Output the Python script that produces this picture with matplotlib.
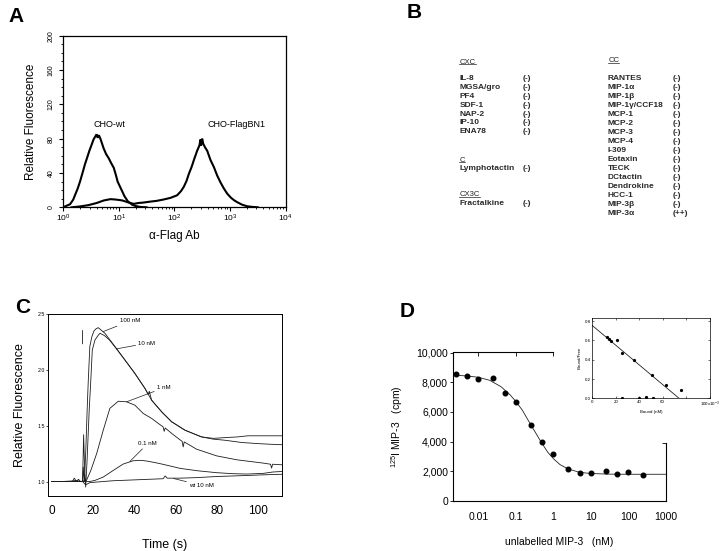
import numpy as np
import matplotlib
matplotlib.use('Agg')
import matplotlib.pyplot as plt
from matplotlib.lines import Line2D
from matplotlib.ticker import MultipleLocator, LogLocator, NullFormatter

plt.rcParams['font.family'] = ['Liberation Sans', 'DejaVu Sans']
plt.rcParams['mathtext.fontset'] = 'custom'
plt.rcParams['mathtext.rm'] = 'Liberation Sans'
plt.rcParams['mathtext.it'] = 'Liberation Sans:italic'
plt.rcParams['mathtext.bf'] = 'Liberation Sans:bold'

# ---------------- Panel A data (flow cytometry histograms) ----------------
wt_x = [1.0, 1.07, 1.32, 1.51, 1.62, 1.82, 2.0, 2.24, 2.45, 2.69, 2.95, 3.24, 3.5, 3.8,
        3.98, 4.17, 4.37, 4.65, 5.0, 5.3, 5.9, 6.6, 7.2, 8.1, 8.9, 9.5, 10.5, 11.5, 12.6,
        14.5, 17.4, 20.0, 24.5, 31.6]
wt_y = [0, 1, 3.5, 9, 14, 22, 30, 41, 50, 58, 66, 73, 79, 83,
        85, 81, 84, 80, 74, 69, 62, 57, 52, 46, 37, 30, 24, 18.6, 13,
        7, 3, 1.5, 0.4, 0]
bn1_x = [1.41, 2.0, 2.82, 3.98, 5.37, 7.08, 8.9, 11.5, 15.1, 18.6, 22.4, 27.5, 35.5, 47.9,
         63.1, 85.1, 112, 132, 148, 166, 182, 204, 224, 257, 282, 295, 302, 316, 331, 355,
         389, 447, 513, 589, 676, 776, 891, 1047, 1202, 1349, 1660, 2042, 2512, 3162]
bn1_y = [0, 1, 2.5, 5, 8, 9.5, 9, 8, 5.5, 4, 5, 5.5, 6.5, 7.5,
         9, 11, 14, 19, 24, 31, 39, 47, 55, 66, 72, 79, 72, 80, 74, 70,
         66, 55, 47, 37, 29, 22, 16, 11, 8, 6, 3, 1.2, 0.5, 0]
a_yticks = [0, 40, 80, 120, 160, 200]
a_xticks = [1, 10, 100, 1000, 10000]
a_xticklabels = [r'$10^{0}$', r'$10^{1}$', r'$10^{2}$', r'$10^{3}$', r'$10^{4}$']

# ---------------- Panel B data (chemokine table) ----------------
cxc_names = ['IL-8', 'MGSA/gro', 'PF4', 'SDF-1', 'NAP-2', 'IP-10', 'ENA78']
cxc_results = ['(-)'] * 7
c_names = ['Lymphotactin']
c_results = ['(-)']
cx3c_names = ['Fractalkine']
cx3c_results = ['(-)']
cc_names = ['RANTES', 'MIP-1α', 'MIP-1β', 'MIP-1γ/CCF18', 'MCP-1', 'MCP-2', 'MCP-3',
            'MCP-4', 'I-309', 'Eotaxin', 'TECK', 'DCtactin', 'Dendrokine', 'HCC-1',
            'MIP-3β', 'MIP-3α']
cc_results = ['(-)'] * 15 + ['(++)']

# ---------------- Panel C data (calcium flux) ----------------
t_100 = [0, 5, 10, 12, 14, 15, 15.3, 15.8, 16, 16.6, 17.2, 17.7, 18.5, 19.5, 20.5, 21.5, 22.6,
         25.8, 30.7, 35.5, 40.3, 45.2, 46.8, 47.3, 48.4, 53.3, 58.1, 64.6, 72.6, 78.3, 85,
         90, 95, 100, 105, 111.4]
v_100 = [1.0, 1.0, 1.005, 1.01, 1.0, 1.0, 1.13, 1.0, 1.05, 1.3, 1.64, 1.88, 2.21, 2.30, 2.35,
         2.37, 2.38, 2.33, 2.21, 2.09, 1.97, 1.835, 1.78, 1.81, 1.73, 1.625, 1.536, 1.46,
         1.40, 1.387, 1.395, 1.40, 1.41, 1.41, 1.41, 1.41]
t_10 = [0, 5, 10, 11, 12, 13, 14, 15, 15.5, 16, 16.5, 17.2, 18.2, 18.9, 19.7, 21, 22.5, 23.4,
        25.5, 28, 31, 35.5, 40.3, 45.2, 48.4, 53.3, 58.1, 64.6, 72.6, 78.3, 84, 88, 92, 96,
        100, 105, 111.4]
v_10 = [1.0, 1.0, 1.0, 1.03, 1.0, 1.02, 1.0, 1.0, 1.42, 1.1, 0.95, 1.2, 1.64, 1.88, 2.18,
        2.27, 2.31, 2.33, 2.31, 2.27, 2.20, 2.09, 1.97, 1.835, 1.73, 1.625, 1.536, 1.46,
        1.40, 1.38, 1.37, 1.36, 1.35, 1.345, 1.34, 1.335, 1.33]
t_1 = [0, 5, 10, 14, 16.9, 19, 21.8, 25, 28.2, 32.3, 36.3, 40.3, 44.4, 48.4, 51, 54,
       54.5, 55, 58.9, 63.2, 63.7, 64.2, 70.2, 79.9, 89.6, 96, 102.5, 106, 106.5, 107, 111.4]
v_1 = [1.0, 1.0, 1.0, 1.0, 1.01, 1.1, 1.25, 1.46, 1.656, 1.72, 1.715, 1.685, 1.61, 1.566,
       1.53, 1.49, 1.45, 1.48, 1.42, 1.36, 1.31, 1.355, 1.29, 1.23, 1.195, 1.18, 1.165, 1.155,
       1.12, 1.155, 1.15]
t_01 = [0, 10, 15, 18.5, 21, 25, 29.9, 34.7, 39.5, 43, 46, 50, 54, 62.2, 70.3, 80, 88, 94.5,
        102.5, 107, 111.4]
v_01 = [1.0, 1.0, 1.0, 1.0, 1.01, 1.04, 1.10, 1.157, 1.186, 1.19, 1.184, 1.17, 1.154, 1.118,
        1.097, 1.079, 1.07, 1.067, 1.073, 1.085, 1.09]
t_wt = [0, 10, 15, 16.5, 18.5, 25, 29.9, 37.9, 46, 54, 55, 56, 62.2, 70.3, 80, 94.5, 102.5,
        111.4]
v_wt = [1.0, 1.0, 1.0, 0.97, 0.99, 1.0, 1.007, 1.013, 1.019, 1.025, 1.05, 1.03, 1.03, 1.035,
        1.045, 1.054, 1.06, 1.065]
c_xticks = [0, 20, 40, 60, 80, 100]
c_yticks = [1.0, 1.5, 2.0, 2.5]

# ---------------- Panel D data (competition binding) ----------------
d_conc = [0.0025, 0.005, 0.01, 0.025, 0.05, 0.1, 0.25, 0.5, 1, 2.5, 5, 10, 25, 50, 100, 250]
d_cpm = [8550, 8450, 8230, 8290, 7270, 6700, 5120, 3950, 3150, 2160, 1900, 1910, 2030, 1830,
         1920, 1780]
fit_conc = [0.0021, 0.005, 0.01, 0.02, 0.04, 0.07, 0.1, 0.15, 0.2, 0.3, 0.45, 0.7, 1.0, 1.5,
            2.5, 5, 10, 30, 100, 1000]
fit_cpm = [8480, 8420, 8330, 8130, 7700, 7150, 6700, 6100, 5550, 4800, 4050, 3300, 2850,
           2450, 2150, 1930, 1850, 1810, 1800, 1800]
d_yticks = [0, 2000, 4000, 6000, 8000, 10000]
d_yticklabels = ['0', '2,000', '4,000', '6,000', '8,000', '10,000']
d_xticks = [0.01, 0.1, 1, 10, 100, 1000]
d_xticklabels = ['0.01', '0.1', '1', '10', '100', '1000']

# inset (Scatchard)
sc_bound = [12.5, 14, 15.6, 21, 25, 35.5, 51, 62.5, 76, 25, 40, 46, 51.5]
sc_ratio = [0.64, 0.62, 0.595, 0.60, 0.465, 0.40, 0.24, 0.14, 0.085, 0.0, 0.0, 0.01, 0.0]
sc_line_bound = [0, 74]
sc_line_ratio = [0.755, 0.0]
sc_xticks = [0, 20, 40, 60, 80, 100]
sc_xticklabels = ['0', '20', '40', '60', '', '100x10$^{-3}$']
sc_yticks = [0.0, 0.2, 0.4, 0.6, 0.8]

# ---------------- Figure ----------------
W, H = 720, 551
fig = plt.figure(figsize=(W / 100, H / 100), dpi=100)
renderer = fig.canvas.get_renderer()


def rect(l, t, r, b):
    return [l / W, 1 - b / H, (r - l) / W, (b - t) / H]


def ftext(x, y, s, **kw):
    return fig.text(x / W, 1 - y / H, s, **kw)


def underlined(x, y, s, fs):
    t = ftext(x, y, s, fontsize=fs, va='center', color='#222222')
    bb = t.get_window_extent(renderer=renderer)
    yl = bb.y0 + 1.2
    fig.add_artist(Line2D([bb.x0 / W, bb.x1 / W], [yl / H, yl / H], lw=0.5,
                          color='#222222', transform=fig.transFigure))


for lab, (x, y) in zip('ABCD', [(16, 17), (414, 12.5), (23, 307.5), (407, 311.5)]):
    ftext(x, y, lab, fontsize=15, fontweight='bold', ha='center', va='center')

# ----- Panel A -----
axA = fig.add_axes(rect(63.3, 35.7, 285.5, 207.3))
axA.plot(wt_x, wt_y, color='k', lw=1.5, solid_joinstyle='miter')
axA.plot(bn1_x, bn1_y, color='k', lw=1.5, solid_joinstyle='miter')
axA.set_xscale('log')
axA.set_xlim(1, 1e4)
axA.set_ylim(0, 200)
axA.set_yticks(a_yticks)
axA.set_yticklabels([str(v) for v in a_yticks], rotation=90, fontsize=5, va='center')
axA.yaxis.set_minor_locator(MultipleLocator(10))
axA.set_xticks(a_xticks)
axA.set_xticklabels(a_xticklabels, fontsize=6)
axA.xaxis.set_minor_locator(LogLocator(base=10, subs=np.arange(2, 10) * 1.0, numticks=20))
axA.xaxis.set_minor_formatter(NullFormatter())
axA.tick_params(which='major', length=3, width=0.8, direction='out')
axA.tick_params(axis='y', which='major', pad=3)
axA.tick_params(axis='x', which='major', pad=1)
axA.tick_params(which='minor', length=1.6, width=0.6, direction='out')
for s in axA.spines.values():
    s.set_linewidth(0.9)
axA.set_xlabel('α-Flag Ab', fontsize=8.5, labelpad=4)
axA.set_ylabel('Relative Fluorescence', fontsize=8.5, labelpad=8)
axA.text(6.9, 96, 'CHO-wt', fontsize=6.5, ha='center', va='center')
axA.text(1290, 96, 'CHO-FlagBN1', fontsize=6.5, ha='center', va='center')

# ----- Panel B -----
bfs = 6.0
bkw = dict(fontsize=bfs, fontweight='bold', va='center', color='#2a2a2a')
underlined(459.5, 62, 'CXC', 5.5)
for i, (n, r) in enumerate(zip(cxc_names, cxc_results)):
    y = 79 + i * 8.75
    ftext(459.5, y, n, **bkw)
    ftext(523, y, r, **bkw)
underlined(459.5, 160, 'C', 5.5)
for n, r in zip(c_names, c_results):
    ftext(459.5, 168.3, n, **bkw)
    ftext(523, 168.3, r, **bkw)
underlined(459.5, 194.3, 'CX3C', 5.5)
for n, r in zip(cx3c_names, cx3c_results):
    ftext(459.5, 203.7, n, **bkw)
    ftext(523, 203.7, r, **bkw)
underlined(608.3, 61, 'CC', 5.5)
for i, (n, r) in enumerate(zip(cc_names, cc_results)):
    y = 79 + i * 8.95
    ftext(608, y, n, **bkw)
    ftext(672.5, y, r, **bkw)

# ----- Panel C -----
axC = fig.add_axes(rect(48.3, 314.3, 281.7, 496))
lc = '#1c1c1c'
for t, v in [(t_100, v_100), (t_10, v_10), (t_1, v_1), (t_01, v_01), (t_wt, v_wt)]:
    axC.plot(t, v, color=lc, lw=0.6)
axC.set_xlim(-1.6, 111.4)
axC.set_ylim(0.87, 2.5)
axC.set_xticks(c_xticks)
axC.set_xticklabels([str(v) for v in c_xticks], fontsize=8.5)
axC.set_yticks(c_yticks)
axC.set_yticklabels(['%.1f' % v for v in c_yticks], fontsize=3.8)
axC.tick_params(axis='x', length=0, pad=6.5)
axC.tick_params(axis='y', length=1.5, width=0.5, pad=0.8)
for s in axC.spines.values():
    s.set_linewidth(0.7)
axC.set_xlabel('Time (s)', fontsize=9, labelpad=16)
axC.set_ylabel('Relative Fluorescence', fontsize=9, labelpad=8)
ann = dict(arrowprops=dict(arrowstyle='-', lw=0.5, color=lc, shrinkA=0, shrinkB=0),
           fontsize=4.4, va='center', ha='left')
axC.annotate('100 nM', xy=(25, 2.345), xytext=(33, 2.44), **ann)
axC.annotate('10 nM', xy=(31.5, 2.19), xytext=(42, 2.24), **ann)
axC.annotate('1 nM', xy=(36.3, 1.715), xytext=(51, 1.84), **ann)
axC.annotate('0.1 nM', xy=(37.9, 1.18), xytext=(42, 1.34), **ann)
axC.annotate('wt 10 nM', xy=(59, 1.027), xytext=(66.6, 0.965), **ann)
axC.annotate('', xy=(15, 2.21), xytext=(15, 2.38),
             arrowprops=dict(arrowstyle='-', lw=0.6, color=lc))

# ----- Panel D -----
axD = fig.add_axes(rect(453, 352.5, 666, 501))
axD.plot(fit_conc, fit_cpm, color='#222222', lw=0.6)
axD.plot(d_conc, d_cpm, 'o', ms=3.3, color='k')
axD.set_xscale('log')
axD.set_xlim(0.00211, 1000)
axD.set_ylim(0, 10000)
axD.set_yticks(d_yticks)
axD.set_yticklabels(d_yticklabels, fontsize=7.5)
axD.set_xticks(d_xticks)
axD.set_xticklabels(d_xticklabels, fontsize=7.5)
axD.xaxis.set_minor_locator(plt.NullLocator())
axD.tick_params(axis='x', length=0, pad=8)
axD.tick_params(axis='y', length=2.4, width=0.6, pad=1.2)
axD.spines['top'].set_visible(False)
axD.spines['right'].set_visible(False)
for s in ['left', 'bottom']:
    axD.spines[s].set_linewidth(0.8)
secx = axD.secondary_xaxis('top')
secx.set_xticks([0.01, 0.1, 1])
secx.xaxis.set_minor_locator(plt.NullLocator())
secx.tick_params(axis='x', direction='in', length=3, width=0.6, labeltop=False)
secx.spines['top'].set_bounds(0.00211, 1)
secx.spines['top'].set_linewidth(0.8)
secy = axD.secondary_yaxis('right')
secy.set_yticks([3900])
secy.tick_params(axis='y', direction='in', length=3, width=0.6, labelright=False)
secy.spines['right'].set_bounds(0, 3900)
secy.spines['right'].set_linewidth(0.8)
axD.set_xlabel('unlabelled MIP-3   (nM)', fontsize=7.5, labelpad=11)
axD.set_ylabel(r'$^{125}$I MIP-3   (cpm)', fontsize=7.5, labelpad=8)

# inset
axI = fig.add_axes(rect(592.3, 318.3, 709.5, 398.3))
axI.plot(sc_line_bound, sc_line_ratio, color='#222222', lw=0.6)
axI.plot(sc_bound, sc_ratio, 'o', ms=1.3, color='k')
axI.set_xlim(0, 100)
axI.set_ylim(0, 0.83)
axI.set_xticks(sc_xticks)
axI.set_xticklabels(sc_xticklabels, fontsize=3.2)
axI.set_yticks(sc_yticks)
axI.set_yticklabels(['%.1f' % v for v in sc_yticks], fontsize=3.2)
axI.tick_params(direction='in', length=1.5, width=0.4, pad=1, top=True, right=True)
for s in axI.spines.values():
    s.set_linewidth(0.5)
axI.set_xlabel('Bound (nM)', fontsize=3.2, labelpad=0.5)
axI.set_ylabel('Bound/Free', fontsize=3.2, labelpad=2)

fig.savefig('out.png', dpi=100)
